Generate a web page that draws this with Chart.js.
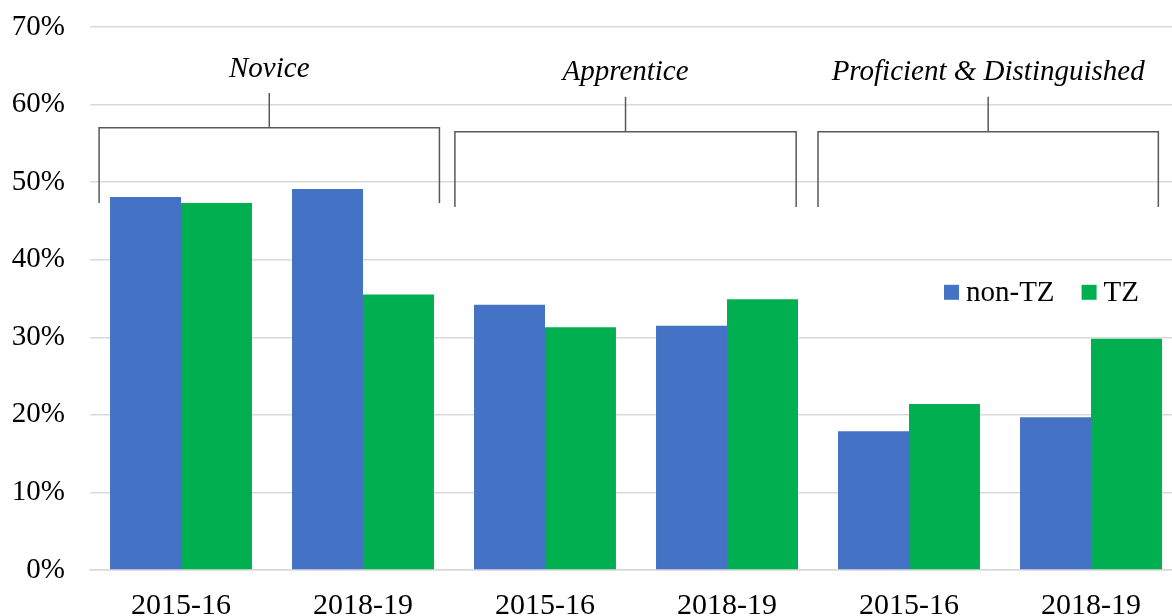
<!DOCTYPE html>
<html>
<head>
<meta charset="utf-8">
<script src="https://cdn.jsdelivr.net/npm/chart.js@4.4.1/dist/chart.umd.min.js"></script>
<style>
  html, body { margin: 0; padding: 0; background: #fff; overflow: hidden; }
  #wrap { width: 1182px; height: 634px; position: relative; }
</style>
</head>
<body>
<div id="wrap"><canvas id="chart"></canvas></div>
<script>
// ---------- Datos ----------
const categories = ["2015-16", "2018-19", "2015-16", "2018-19", "2015-16", "2018-19"];
const nonTZ = [48.1, 49.1, 34.2, 31.5, 17.9, 19.7];
const TZ    = [47.3, 35.5, 31.3, 34.9, 21.4, 29.8];
const groupLabels = ["Novice", "Apprentice", "Proficient & Distinguished"];
const yTicks = [0, 10, 20, 30, 40, 50, 60, 70];

const SERIF = "'Liberation Serif', 'Times New Roman', serif";

// brackets: first/last category index, offsets in category widths, y levels (in %)
const brackets = [
  { from: 0, to: 1, l: -0.45, r: 0.42, top: 57.0, bottom: 47.3, stem: 61.5 },
  { from: 2, to: 3, l: -0.495, r: 0.38, top: 56.5, bottom: 46.8, stem: 61.0 },
  { from: 4, to: 5, l: -0.5,  r: 0.37, top: 56.5, bottom: 46.8, stem: 61.0 }
];

const bracketPlugin = {
  id: "brackets",
  afterDatasetsDraw(chart) {
    const { ctx, scales: { x, y } } = chart;
    const w = x.getPixelForValue(1) - x.getPixelForValue(0);
    ctx.save();
    ctx.strokeStyle = "#595959";
    ctx.lineWidth = 1.5;
    brackets.forEach((b, i) => {
      const x1 = x.getPixelForValue(b.from) + b.l * w;
      const x2 = x.getPixelForValue(b.to) + b.r * w;
      const yt = y.getPixelForValue(b.top);
      const yb = y.getPixelForValue(b.bottom);
      const ys = y.getPixelForValue(b.stem);
      const xm = (x1 + x2) / 2;
      ctx.beginPath();
      ctx.moveTo(x1, yb); ctx.lineTo(x1, yt); ctx.lineTo(x2, yt); ctx.lineTo(x2, yb);
      ctx.moveTo(xm, yt); ctx.lineTo(xm, ys);
      ctx.stroke();
      ctx.fillStyle = "#000";
      ctx.font = "italic 29px " + SERIF;
      ctx.textAlign = "center";
      ctx.textBaseline = "middle";
      ctx.fillText(groupLabels[i], xm, y.getPixelForValue(b.stem + 3.1));
    });

    // leyenda
    ctx.font = "29px " + SERIF;
    ctx.textAlign = "left";
    ctx.textBaseline = "middle";
    const ly = y.getPixelForValue(35.8);
    let lx = 944;
    chart.data.datasets.forEach(ds => {
      ctx.fillStyle = ds.backgroundColor;
      ctx.fillRect(lx, ly - 7.5, 15, 15);
      ctx.fillStyle = "#000";
      ctx.fillText(ds.label, lx + 22, ly + 1);
      lx += 22 + ctx.measureText(ds.label).width + 27;
    });
    ctx.restore();
  }
};

new Chart(document.getElementById("chart"), {
  type: "bar",
  data: {
    labels: categories,
    datasets: [
      { label: "non-TZ", data: nonTZ, backgroundColor: "#4472C4", borderWidth: 0 },
      { label: "TZ",     data: TZ,    backgroundColor: "#00B050", borderWidth: 0 }
    ]
  },
  options: {
    responsive: true,
    maintainAspectRatio: false,
    animation: false,
    layout: { padding: { top: 27, left: 0, right: 0, bottom: 0 } },
    plugins: { legend: { display: false }, tooltip: { enabled: false } },
    datasets: { bar: { categoryPercentage: 0.78, barPercentage: 1.0 } },
    scales: {
      x: {
        grid: { display: false },
        border: { display: true, color: "#d9d9d9", width: 1.5 },
        ticks: { color: "#000", font: { family: SERIF, size: 30 }, padding: 10, maxRotation: 0 }
      },
      y: {
        min: 0, max: 70,
        afterFit: s => { s.width = 90; s.paddingTop = 0; s.paddingBottom = 0; },
        afterBuildTicks: s => { s.ticks = yTicks.map(v => ({ value: v })); },
        grid: { color: "#d9d9d9", lineWidth: 1.5, drawTicks: false },
        border: { display: false },
        ticks: { color: "#000", font: { family: SERIF, size: 29 }, padding: 25, callback: v => v + "%" }
      }
    }
  },
  plugins: [bracketPlugin]
});
</script>
</body>
</html>
